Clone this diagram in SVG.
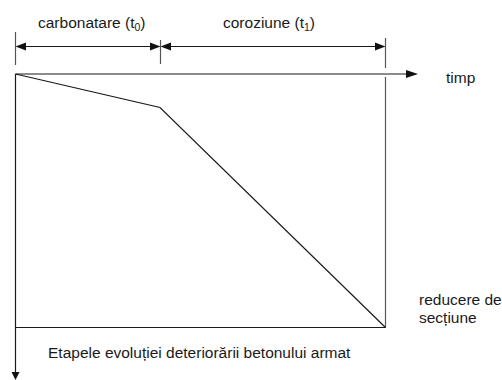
<svg xmlns="http://www.w3.org/2000/svg" width="502" height="380" viewBox="0 0 502 380">
<style>
.ln{stroke:#1a1a1a;stroke-width:1.2;fill:none}
.tk{stroke:#555;stroke-width:1.2;fill:none}
.ah{fill:#111;stroke:none}
text{font-family:"Liberation Sans",Arial,sans-serif;font-size:15.5px;fill:#1a1a1a}
</style>
<rect width="502" height="380" fill="#fff"/>
<g id="connectors">
<line class="tk" x1="15.5" y1="32" x2="15.5" y2="65"/>
<line class="tk" x1="160.5" y1="40" x2="160.5" y2="64"/>
<line class="tk" x1="385.5" y1="38" x2="385.5" y2="68"/>
<line class="ln" x1="25" y1="46.5" x2="151" y2="46.5"/>
<line class="ln" x1="169" y1="46.5" x2="376" y2="46.5"/>
<polygon class="ah" points="15.5,46.5 26,42.5 26,50.5"/>
<polygon class="ah" points="160.5,46.5 150,42.5 150,50.5"/>
<polygon class="ah" points="160.5,46.5 171,42.5 171,50.5"/>
<polygon class="ah" points="385.5,46.5 375,42.5 375,50.5"/>
<line class="ln" x1="15.5" y1="74" x2="408" y2="74"/>
<polygon class="ah" points="418,74 406,70 406,78"/>
<line class="ln" x1="15.5" y1="74" x2="15.5" y2="372"/>
<polygon class="ah" points="15.5,380 11.5,372 19.5,372"/>
<line class="tk" x1="385.5" y1="77" x2="385.5" y2="327.5"/>
<line class="ln" x1="15.5" y1="327.5" x2="385.5" y2="327.5"/>
<polyline class="ln" points="15.5,74 160,107.5 385.5,327.5"/>
</g>
<g id="label-carbonatare"><text x="38" y="28">carbonatare (t<tspan font-size="10.5" dy="3">0</tspan><tspan dy="-3">)</tspan></text></g>
<g id="label-coroziune"><text x="223" y="28">coroziune (t<tspan font-size="10.5" dy="3">1</tspan><tspan dy="-3">)</tspan></text></g>
<g id="label-timp"><text x="446" y="83">timp</text></g>
<g id="label-reducere"><text x="419" y="305">reducere de</text><text x="419" y="323">secțiune</text></g>
<g id="label-title"><text x="48" y="358">Etapele evoluției deteriorării betonului armat</text></g>
</svg>
